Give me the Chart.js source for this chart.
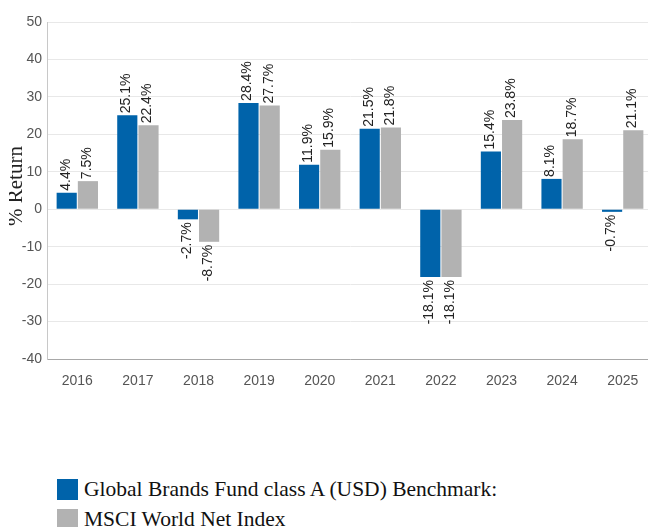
<!DOCTYPE html>
<html>
<head>
<meta charset="utf-8">
<script src="https://cdn.jsdelivr.net/npm/chart.js@4"></script>
<style>
    html, body { margin: 0; padding: 0; background: #fff; overflow: hidden; }
    body { width: 648px; height: 527px; position: relative; }
    #wrap { position: absolute; left: 0; top: 0; width: 656px; height: 400px; }
    .legend { position: absolute; left: 57px; font-family: "Liberation Serif", "Times New Roman", serif; font-size: 21.5px; color: #111; white-space: nowrap; }
    .legend span.sw { display: inline-block; width: 21px; height: 21px; vertical-align: middle; margin-right: 6px; position: relative; top: -2px; }
</style>
</head>
<body>
<div id="wrap"><canvas id="chart"></canvas></div>
<div class="legend" style="top:477px;"><span class="sw" style="background:#0063aa"></span>Global Brands Fund class A (USD) Benchmark:</div>
<div class="legend" style="top:507px;"><span class="sw" style="background:#b2b2b2"></span>MSCI World Net Index</div>
<script>
const years = ['2016', '2017', '2018', '2019', '2020', '2021', '2022', '2023', '2024', '2025'];
const fundReturns = [4.4, 25.1, -2.7, 28.4, 11.9, 21.5, -18.1, 15.4, 8.1, -0.7];
const indexReturns = [7.5, 22.4, -8.7, 27.7, 15.9, 21.8, -18.1, 23.8, 18.7, 21.1];
const yMin = -40;
const yMax = 50;
const yStep = 10;

// rotated value labels on each bar
const barLabels = {
    id: 'barLabels',
    afterDatasetsDraw(chart) {
        const ctx = chart.ctx;
        ctx.save();
        ctx.font = '14px "Liberation Sans", Arial, sans-serif';
        ctx.fillStyle = '#222';
        ctx.textBaseline = 'middle';
        chart.data.datasets.forEach((ds, i) => {
            chart.getDatasetMeta(i).data.forEach((bar, j) => {
                const v = ds.data[j];
                ctx.save();
                if (v >= 0) {
                    ctx.translate(bar.x - 1, bar.y - 2);
                    ctx.textAlign = 'left';
                } else {
                    ctx.translate(bar.x - 1, bar.y + 3);
                    ctx.textAlign = 'right';
                }
                ctx.rotate(-Math.PI / 2);
                ctx.fillText(v.toFixed(1) + '%', 0, 0);
                ctx.restore();
            });
        });
        ctx.restore();
    }
};

// y title, partly cut off on the left like the original
const yTitle = {
    id: 'yTitle',
    afterDraw(chart) {
        const ctx = chart.ctx;
        ctx.save();
        ctx.beginPath();
        ctx.rect(9, 0, 40, chart.height);
        ctx.clip();
        ctx.translate(22, 186);
        ctx.rotate(-Math.PI / 2);
        ctx.font = '21px "Liberation Serif", "Times New Roman", serif';
        ctx.fillStyle = '#222';
        ctx.textAlign = 'center';
        ctx.textBaseline = 'alphabetic';
        ctx.fillText('% Return', 0, 0);
        ctx.restore();
    }
};

new Chart(document.getElementById('chart'), {
    type: 'bar',
    data: {
        labels: years,
        datasets: [
            { label: 'Global Brands Fund class A (USD) Benchmark:', data: fundReturns, backgroundColor: '#0063aa' },
            { label: 'MSCI World Net Index', data: indexReturns, backgroundColor: '#b2b2b2' }
        ]
    },
    options: {
        responsive: true,
        maintainAspectRatio: false,
        animation: false,
        layout: { padding: { top: 22, right: 3, left: 0, bottom: 0 } },
        plugins: { legend: { display: false }, tooltip: { enabled: false } },
        datasets: { bar: { categoryPercentage: 0.7, barPercentage: 0.95 } },
        scales: {
            x: {
                grid: { display: false },
                border: { display: true, color: '#a8a8a8' },
                ticks: { color: '#555', padding: 6, font: { size: 14, family: '"Liberation Sans", Arial, sans-serif' } },
                afterFit(scale) { scale.height = 41; }
            },
            y: {
                min: yMin,
                max: yMax,
                ticks: { stepSize: yStep, color: '#555', padding: 5, font: { size: 14, family: '"Liberation Sans", Arial, sans-serif' } },
                grid: { color: '#e8e8e8', drawTicks: false },
                border: { display: true, color: '#c8c8c8' },
                afterFit(scale) { scale.width = 47; }
            }
        }
    },
    plugins: [barLabels, yTitle]
});
</script>
</body>
</html>
